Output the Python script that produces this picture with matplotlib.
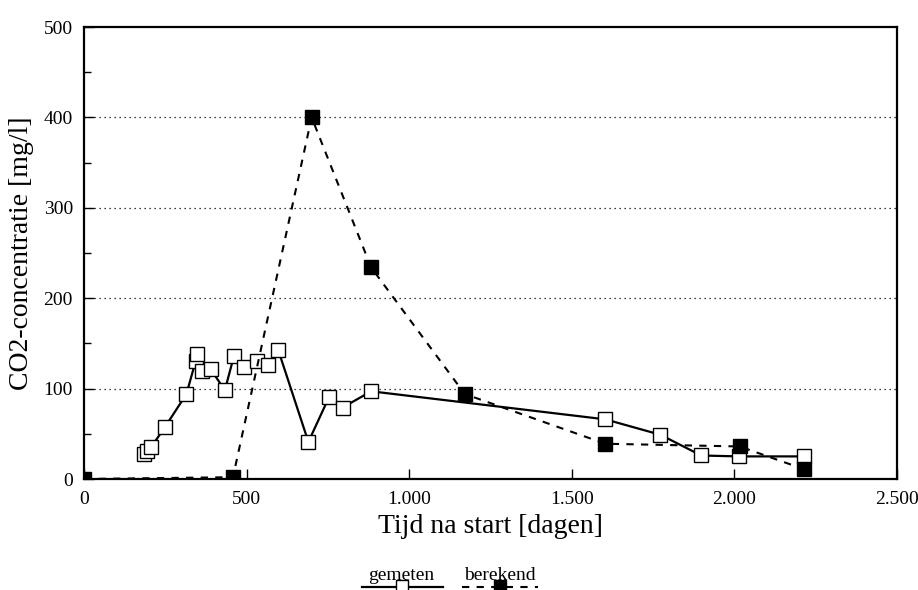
import matplotlib
matplotlib.use("Agg")
import matplotlib.pyplot as plt
from matplotlib.lines import Line2D

# Data
gemeten_x = [183, 193, 206, 250, 315, 343, 348, 364, 389, 433, 461, 492, 533, 566, 597,
             690, 754, 795, 883, 1603, 1772, 1898, 2014, 2213]
gemeten_y = [28, 31, 35, 58, 94, 130, 138, 120, 122, 98, 136, 124, 130, 126, 143,
             41, 91, 79, 97, 66, 49, 26, 25, 25]
berekend_x = [0, 458, 700, 883, 1171, 1603, 2016, 2213]
berekend_y = [0, 2, 400, 234, 94, 39, 36, 11]

x_ticks = [0, 500, 1000, 1500, 2000, 2500]
x_ticklabels = ["0", "500", "1.000", "1.500", "2.000", "2.500"]
y_ticks = [0, 100, 200, 300, 400, 500]
y_ticklabels = ["0", "100", "200", "300", "400", "500"]

xlabel = "Tijd na start [dagen]"
ylabel = "CO2-concentratie [mg/l]"
legend_labels = ["gemeten", "berekend"]

plt.rcParams['font.family'] = ['Liberation Serif', 'DejaVu Serif']

fig = plt.figure(figsize=(9.18, 5.9), dpi=100)
ax = fig.add_axes([84/918, 1 - 479/590, (897-84)/918, (479-27)/590])

ax.plot(gemeten_x, gemeten_y, color='black', lw=1.6, marker='s', ms=9.5,
        mfc='white', mec='black', mew=1.0, zorder=3)
ax.plot(berekend_x, berekend_y, color='black', lw=1.5, ls=(0, (3.5, 3.5)), marker='s', ms=9.5,
        mfc='black', mec='black', zorder=4)

ax.set_xlim(0, 2500)
ax.set_ylim(0, 500)
ax.set_xticks(x_ticks)
ax.set_xticklabels(x_ticklabels)
ax.set_yticks(y_ticks)
ax.set_yticklabels(y_ticklabels)
ax.set_yticks([50, 150, 250, 350, 450], minor=True)
ax.tick_params(axis='both', which='major', direction='in', length=7, width=1.0,
               labelsize=14)
ax.tick_params(axis='y', which='major', pad=8)
ax.tick_params(axis='x', which='major', pad=9)
ax.tick_params(axis='y', which='minor', direction='in', length=5, width=1.0)
for s in ax.spines.values():
    s.set_linewidth(1.6)

for yv in [100, 200, 300, 400]:
    ax.axhline(yv, color='black', lw=0.9, ls=(0, (1, 3)), zorder=1)

ax.set_xlabel(xlabel, fontsize=20, labelpad=4)
ax.set_ylabel(ylabel, fontsize=20, labelpad=7)

# Custom legend below
fig.text(401/918, 1 - 580/590, legend_labels[0], ha='center', va='baseline', fontsize=14)
fig.text(500/918, 1 - 580/590, legend_labels[1], ha='center', va='baseline', fontsize=14)
fig.add_artist(Line2D([362/918, 443/918], [1 - 587/590] * 2, color='black', lw=1.6,
                      transform=fig.transFigure))
fig.add_artist(Line2D([402/918], [1 - 586/590], marker='s', ms=8, mfc='white', mec='black',
                      mew=1.0, ls='none', transform=fig.transFigure))
fig.add_artist(Line2D([462/918, 538/918], [1 - 587/590] * 2, color='black', lw=1.5,
                      ls=(0, (3.5, 3.5)), transform=fig.transFigure))
fig.add_artist(Line2D([500/918], [1 - 586/590], marker='s', ms=8, mfc='black', mec='black',
                      ls='none', transform=fig.transFigure))

fig.savefig("out.png", dpi=100)
